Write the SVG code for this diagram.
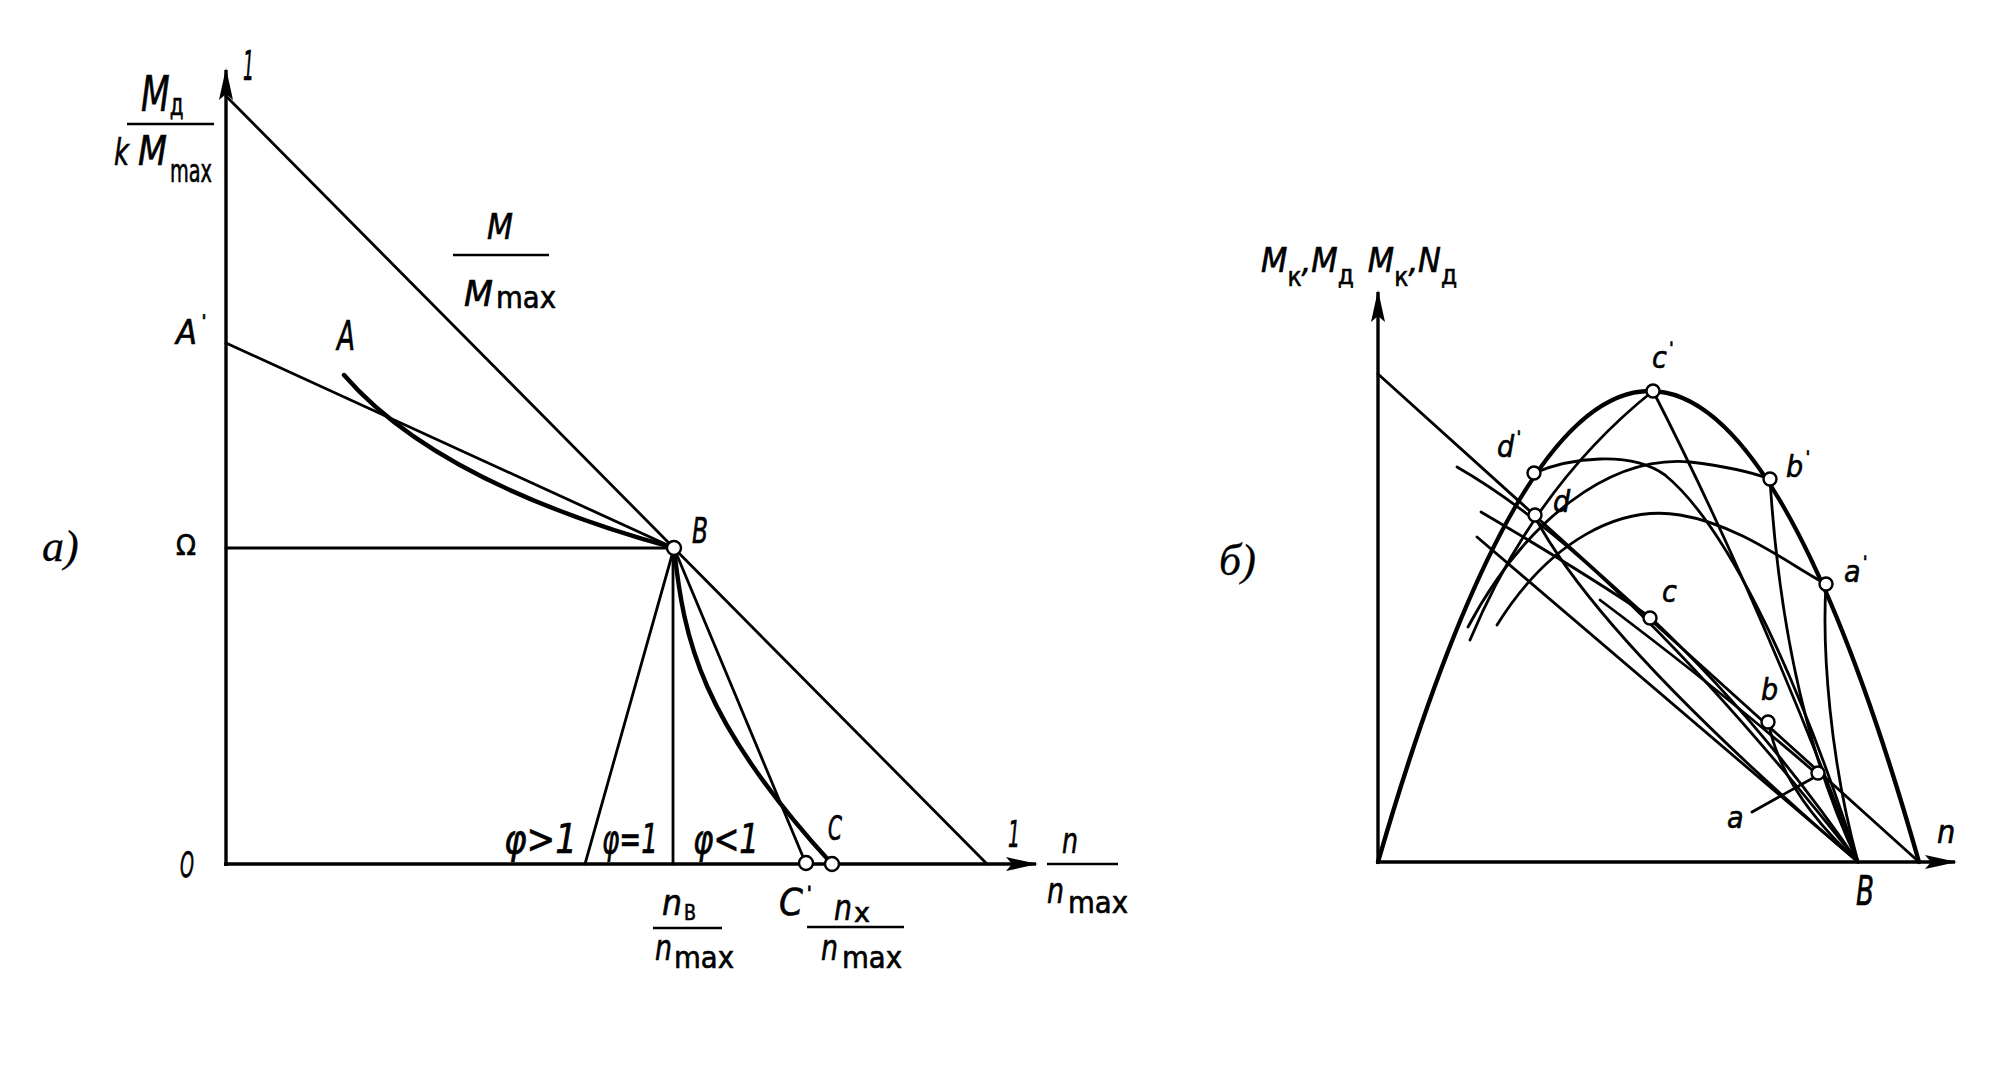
<svg xmlns="http://www.w3.org/2000/svg" width="1992" height="1082" viewBox="0 0 1992 1082">
<defs>
<style>
.ln{fill:none;stroke:#000;stroke-width:2.8;stroke-linecap:round;stroke-linejoin:round}
.th{fill:none;stroke:#000;stroke-width:4.4;stroke-linecap:round;stroke-linejoin:round}
.ax{fill:none;stroke:#000;stroke-width:3.4}
.bar{stroke:#000;stroke-width:2.4}
.pt{fill:#fff;stroke:#000;stroke-width:2.4}
text{font-family:'DejaVu Sans Condensed','DejaVu Sans','Liberation Sans',sans-serif;font-style:oblique;font-stretch:condensed;fill:#000;stroke:#000;stroke-width:0.6}
.up{font-style:normal}
.sf{font-family:'Liberation Serif','DejaVu Serif',serif;font-style:italic;stroke-width:0.3}
.pr{font-style:normal;font-family:'Liberation Sans','DejaVu Sans',sans-serif}
</style>
<marker id="arr" viewBox="0 0 32 14" refX="30" refY="7" markerWidth="32" markerHeight="14" markerUnits="userSpaceOnUse" orient="auto">
<path d="M0,0 L32,7 L0,14 L6,7 z" fill="#000"/>
</marker>
</defs>
<rect width="1992" height="1082" fill="#fff"/>

<!-- ===== Panel a ===== -->
<g id="panel-a">
<g id="a-axes">
<line class="ax" x1="226" y1="866" x2="226" y2="70" marker-end="url(#arr)"/>
<line class="ax" x1="224" y1="864" x2="1036" y2="864" marker-end="url(#arr)"/>
<line class="bar" x1="1047" y1="864" x2="1118" y2="864"/>
</g>
<g id="a-connectors">
<path class="ln" d="M226,96 L987,864"/>
<path class="ln" d="M226,343 L674,548"/>
<path class="ln" d="M226,548 L674,548"/>
<path class="th" d="M344,375 C400,440 500,500 674,548"/>
<path class="ln" d="M674,548 L585,864"/>
<path class="ln" d="M673,548 L673,864"/>
<path class="ln" d="M674,548 L806,864"/>
<path class="th" d="M674,548 C684,640 700,720 832,864"/>
</g>
<g id="a-labels">
<text transform="translate(141,111) scale(0.74,1)" font-size="50">M<tspan class="up" dy="4" font-size="30">д</tspan></text>
<line class="bar" x1="127" y1="124" x2="214" y2="124"/>
<text x="114" y="165" font-size="38" textLength="15" lengthAdjust="spacingAndGlyphs">k</text>
<text x="138" y="165" font-size="40" textLength="29" lengthAdjust="spacingAndGlyphs">M</text>
<text class="up" x="170" y="182" font-size="32" textLength="42" lengthAdjust="spacingAndGlyphs">max</text>
<text x="243" y="80" font-size="40" textLength="11" lengthAdjust="spacingAndGlyphs">1</text>
<text x="487" y="239" font-size="36" textLength="26" lengthAdjust="spacingAndGlyphs">M</text>
<line class="bar" x1="453" y1="255" x2="549" y2="255"/>
<text x="464" y="306" font-size="36" textLength="29" lengthAdjust="spacingAndGlyphs">M</text>
<text class="up" x="496" y="308" font-size="30" textLength="60" lengthAdjust="spacingAndGlyphs">max</text>
<text x="176" y="344" font-size="34">A<tspan class="pr" dx="2" dy="-8" font-size="30">ˈ</tspan></text>
<text x="337" y="350" font-size="40" textLength="18" lengthAdjust="spacingAndGlyphs">A</text>
<text class="up" x="176" y="555" font-size="28" textLength="20" lengthAdjust="spacingAndGlyphs">Ω</text>
<text class="sf" x="42" y="561" font-size="44">a)</text>
<text x="692" y="543" font-size="36" textLength="16" lengthAdjust="spacingAndGlyphs">B</text>
<text x="180" y="877" font-size="36" textLength="14" lengthAdjust="spacingAndGlyphs">O</text>
<text x="504" y="853" font-size="40" textLength="73" lengthAdjust="spacingAndGlyphs">φ&gt;1</text>
<text x="602" y="853" font-size="40" textLength="56" lengthAdjust="spacingAndGlyphs">φ=1</text>
<text x="693" y="853" font-size="40" textLength="66" lengthAdjust="spacingAndGlyphs">φ&lt;1</text>
<text x="828" y="840" font-size="34" textLength="14" lengthAdjust="spacingAndGlyphs">C</text>
<text x="1008" y="847" font-size="38" textLength="12" lengthAdjust="spacingAndGlyphs">1</text>
<text x="1062" y="853" font-size="36" textLength="16" lengthAdjust="spacingAndGlyphs">n</text>
<text x="1047" y="903" font-size="36" textLength="17" lengthAdjust="spacingAndGlyphs">n</text>
<text class="up" x="1068" y="913" font-size="30" textLength="60" lengthAdjust="spacingAndGlyphs">max</text>
<text x="662" y="915" font-size="36" textLength="20" lengthAdjust="spacingAndGlyphs">n</text>
<text class="up" x="684" y="920" font-size="22" textLength="12" lengthAdjust="spacingAndGlyphs">B</text>
<line class="bar" x1="653" y1="928" x2="722" y2="928"/>
<text x="655" y="960" font-size="36" textLength="17" lengthAdjust="spacingAndGlyphs">n</text>
<text class="up" x="674" y="968" font-size="30" textLength="60" lengthAdjust="spacingAndGlyphs">max</text>
<text x="779" y="915" font-size="38">C<tspan class="pr" dx="1" dy="-6" font-size="32">ˈ</tspan></text>
<text x="834" y="920" font-size="36" textLength="18" lengthAdjust="spacingAndGlyphs">n</text>
<text class="up" x="854" y="922" font-size="26" textLength="16" lengthAdjust="spacingAndGlyphs">x</text>
<line class="bar" x1="807" y1="927" x2="904" y2="927"/>
<text x="821" y="960" font-size="36" textLength="17" lengthAdjust="spacingAndGlyphs">n</text>
<text class="up" x="842" y="968" font-size="30" textLength="60" lengthAdjust="spacingAndGlyphs">max</text>
</g>
<g id="node-B-a"><circle class="pt" cx="674" cy="548" r="7"/></g>
<g id="node-Cp-a"><circle class="pt" cx="806" cy="863" r="7"/></g>
<g id="node-C-a"><circle class="pt" cx="832" cy="864" r="7"/></g>
</g>

<!-- ===== Panel b ===== -->
<g id="panel-b">
<g id="b-axes">
<line class="ax" x1="1378" y1="864" x2="1378" y2="292" marker-end="url(#arr)"/>
<line class="ax" x1="1376" y1="862" x2="1955" y2="862" marker-end="url(#arr)"/>
</g>
<g id="b-connectors">
<path class="th" d="M1378,862 Q1651,-80 1919,862"/>
<path class="ln" d="M1378,374 L1919,862"/>
<path class="ln" d="M1470,640 Q1535,485 1653,391"/>
<path class="ln" d="M1653,391 Q1760,600 1858,862"/>
<path class="ln" d="M1534,473 C1570,458 1630,450 1665,475 C1720,520 1790,650 1858,862"/>
<path class="ln" d="M1468,627 C1525,520 1610,455 1690,462 Q1740,468 1770,479"/>
<path class="ln" d="M1770,479 C1775,560 1790,720 1858,862"/>
<path class="ln" d="M1497,625 C1550,540 1620,505 1680,515 C1740,525 1790,565 1826,584"/>
<path class="ln" d="M1826,584 C1822,650 1830,760 1858,862"/>
<path class="ln" d="M1457,467 Q1620,560 1858,862"/>
<path class="ln" d="M1481,512 Q1580,570 1650,617 Q1760,720 1858,862"/>
<path class="ln" d="M1477,537 L1858,862"/>
<path class="ln" d="M1535,517 Q1600,640 1858,862"/>
<path class="ln" d="M1768,720 Q1780,790 1858,862"/>
<path class="ln" d="M1600,600 Q1720,690 1818,775"/>
<path class="ln" stroke-width="1.8" d="M1752,812 L1813,778"/>
</g>
<g id="b-labels">
<text x="1261" y="272" font-size="34">M<tspan class="up" dy="14" font-size="26">к</tspan><tspan dy="-14">,M</tspan><tspan class="up" dy="12" font-size="26">д</tspan><tspan dx="14" dy="-12">M</tspan><tspan class="up" dy="14" font-size="26">к</tspan><tspan dy="-14">,N</tspan><tspan class="up" dy="12" font-size="26">д</tspan></text>
<text class="sf" x="1219" y="575" font-size="44">б)</text>
<text x="1937" y="843" font-size="32">n</text>
<text x="1856" y="905" font-size="40" textLength="18" lengthAdjust="spacingAndGlyphs">B</text>
</g>
<g id="node-cp"><circle class="pt" cx="1653" cy="391" r="6.5"/><text x="1652" y="368" font-size="30">c<tspan class="pr" dy="-6" font-size="28">ˈ</tspan></text></g>
<g id="node-dp"><circle class="pt" cx="1534" cy="473" r="6.5"/><text x="1497" y="457" font-size="30">d<tspan class="pr" dy="-6" font-size="28">ˈ</tspan></text></g>
<g id="node-bp"><circle class="pt" cx="1770" cy="479" r="6.5"/><text x="1786" y="477" font-size="30">b<tspan class="pr" dy="-6" font-size="28">ˈ</tspan></text></g>
<g id="node-ap"><circle class="pt" cx="1826" cy="584" r="6.5"/><text x="1844" y="582" font-size="30">a<tspan class="pr" dy="-6" font-size="28">ˈ</tspan></text></g>
<g id="node-d"><circle class="pt" cx="1535" cy="515" r="6.5"/><text x="1553" y="512" font-size="30">d</text></g>
<g id="node-c"><circle class="pt" cx="1650" cy="618" r="6.5"/><text x="1662" y="602" font-size="30">c</text></g>
<g id="node-b"><circle class="pt" cx="1768" cy="722" r="6.5"/><text x="1761" y="700" font-size="30">b</text></g>
<g id="node-a"><circle class="pt" cx="1818" cy="773" r="6.5"/><text x="1727" y="828" font-size="30">a</text></g>
</g>
</svg>
